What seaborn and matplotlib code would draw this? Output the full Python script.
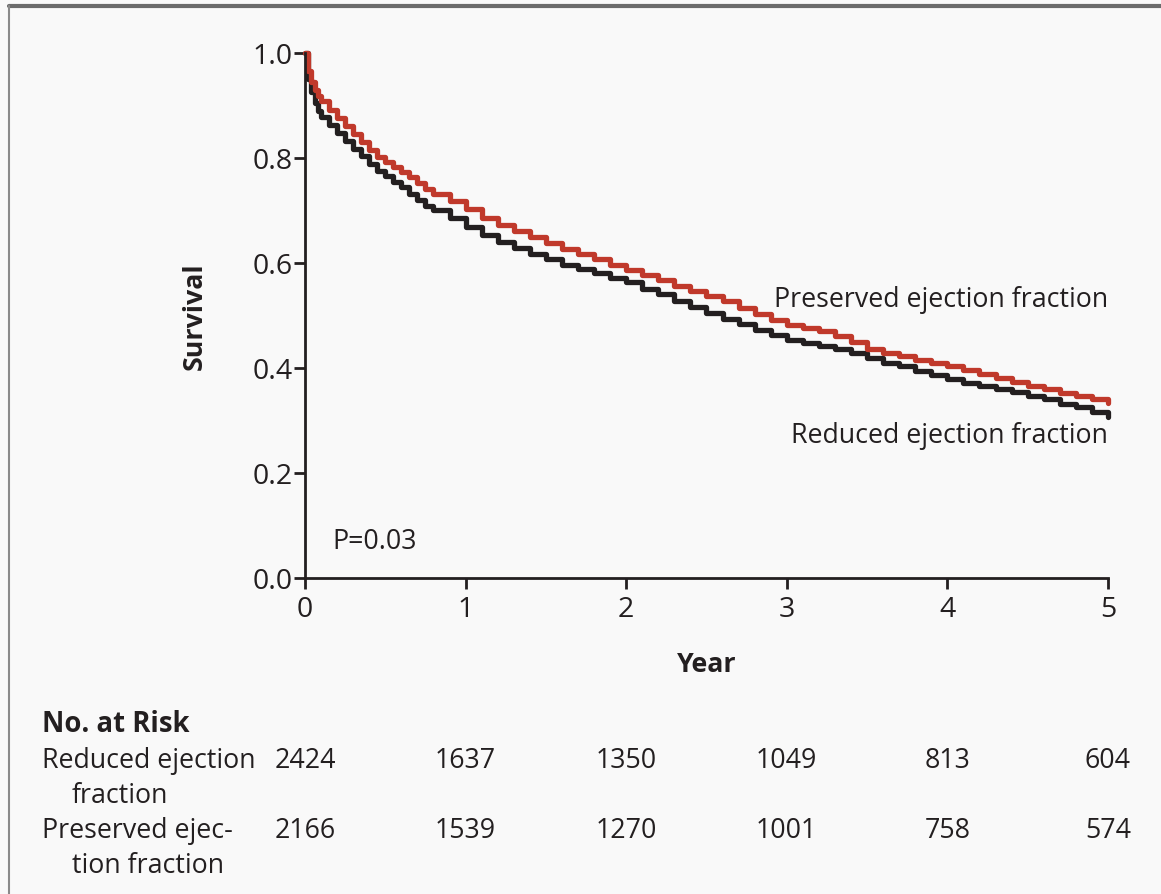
import numpy as np
import pandas as pd
import seaborn as sns
import matplotlib.pyplot as plt
from matplotlib.lines import Line2D
from matplotlib.transforms import blended_transform_factory

# Kaplan-Meier curves (year, survival)
years_reduced = [0.00, 0.02, 0.04, 0.06, 0.08, 0.10, 0.15, 0.20, 0.25, 0.30, 0.35, 0.40, 0.45,
                 0.50, 0.55, 0.60, 0.65, 0.70, 0.75, 0.80, 0.90, 1.00, 1.10, 1.20, 1.30, 1.40,
                 1.50, 1.60, 1.70, 1.80, 1.90, 2.00, 2.10, 2.20, 2.30, 2.40, 2.50, 2.60, 2.70,
                 2.80, 2.90, 3.00, 3.10, 3.20, 3.30, 3.40, 3.50, 3.60, 3.70, 3.80, 3.90, 4.00,
                 4.10, 4.20, 4.30, 4.40, 4.50, 4.60, 4.70, 4.80, 4.90, 5.00]
surv_reduced = [1.000, 0.950, 0.925, 0.905, 0.890, 0.878, 0.862, 0.848, 0.833, 0.818, 0.803,
                0.788, 0.776, 0.766, 0.755, 0.744, 0.731, 0.720, 0.709, 0.700, 0.686, 0.669,
                0.653, 0.640, 0.629, 0.618, 0.607, 0.597, 0.589, 0.580, 0.571, 0.563, 0.551,
                0.540, 0.528, 0.516, 0.505, 0.494, 0.483, 0.473, 0.462, 0.454, 0.448, 0.442,
                0.436, 0.428, 0.419, 0.410, 0.403, 0.395, 0.387, 0.379, 0.372, 0.366, 0.360,
                0.354, 0.347, 0.340, 0.332, 0.325, 0.317, 0.306]

years_preserved = years_reduced
surv_preserved = [1.000, 0.965, 0.945, 0.930, 0.918, 0.908, 0.892, 0.877, 0.860, 0.845, 0.830,
                  0.815, 0.802, 0.793, 0.783, 0.773, 0.763, 0.752, 0.740, 0.731, 0.718, 0.703,
                  0.686, 0.672, 0.660, 0.649, 0.638, 0.627, 0.617, 0.607, 0.597, 0.587, 0.578,
                  0.567, 0.557, 0.547, 0.537, 0.527, 0.515, 0.503, 0.492, 0.482, 0.476, 0.470,
                  0.461, 0.450, 0.437, 0.429, 0.422, 0.416, 0.410, 0.404, 0.397, 0.389, 0.381,
                  0.374, 0.366, 0.359, 0.352, 0.346, 0.340, 0.333]

# numbers at risk
risk_years = [0, 1, 2, 3, 4, 5]
risk_reduced = [2424, 1637, 1350, 1049, 813, 604]
risk_preserved = [2166, 1539, 1270, 1001, 758, 574]

group_names = ["Reduced ejection fraction", "Preserved ejection fraction"]
colors = {"Reduced ejection fraction": "#231f20", "Preserved ejection fraction": "#c0392b"}

df = pd.concat([
    pd.DataFrame({"year": years_reduced, "survival": surv_reduced, "group": group_names[0]}),
    pd.DataFrame({"year": years_preserved, "survival": surv_preserved, "group": group_names[1]}),
])

sns.set_style("ticks")
plt.rcParams["font.family"] = ["Open Sans", "DejaVu Sans"]
ink = "#231f20"
bg = "#f9f9f9"
fs = 19.3

fig = plt.figure(figsize=(11.61, 8.95), dpi=100, facecolor=bg)
ax = fig.add_axes([0.2627, 0.3531, 0.6916, 0.5866])
ax.set_facecolor(bg)

sns.lineplot(data=df, x="year", y="survival", hue="group", hue_order=group_names,
             palette=colors, drawstyle="steps-post", linewidth=3.8, legend=False,
             ax=ax, clip_on=False, estimator=None)

ax.set_xlim(0, 5)
ax.set_ylim(0, 1)
ax.set_xticks(risk_years)
ax.set_xticklabels([str(y) for y in risk_years])
ax.set_yticks([0, 0.2, 0.4, 0.6, 0.8, 1.0])
ax.set_yticklabels(["0.0", "0.2", "0.4", "0.6", "0.8", "1.0"])
for s in ["top", "right"]:
    ax.spines[s].set_visible(False)
for s in ["left", "bottom"]:
    ax.spines[s].set_color(ink)
    ax.spines[s].set_linewidth(2.0)
ax.tick_params(axis="both", colors=ink, width=2.0, length=8, labelsize=20.5)
ax.tick_params(axis="y", pad=1)
ax.tick_params(axis="x", pad=4)

ax.set_xlabel("Year", fontsize=fs, fontweight="bold", color=ink, va="center")
ax.set_ylabel("Survival", fontsize=fs, fontweight="bold", color=ink, va="center")
ax.xaxis.set_label_coords(0.5, (579 - 665) / 525)
ax.yaxis.set_label_coords((195 - 305) / 803, 0.5)

ax.text(0.17, 0.07, "P=0.03", fontsize=fs, color=ink, va="center", ha="left")
ax.text(5, 0.532, "Preserved ejection fraction", fontsize=fs, color=ink, ha="right", va="center")
ax.text(5, 0.272, "Reduced ejection fraction", fontsize=fs, color=ink, ha="right", va="center")

# number at risk table
def fy(py):
    return 1 - py / 895

fig.text(42 / 1161, fy(724), "No. at Risk", fontsize=fs + 0.5, fontweight="bold", color=ink, va="center")
fig.text(42 / 1161, fy(761), "Reduced ejection", fontsize=fs, color=ink, va="center")
fig.text(72 / 1161, fy(796), "fraction", fontsize=fs, color=ink, va="center")
fig.text(42 / 1161, fy(831), "Preserved ejec-", fontsize=fs, color=ink, va="center")
fig.text(72 / 1161, fy(866), "tion fraction", fontsize=fs, color=ink, va="center")

trans = blended_transform_factory(ax.transData, fig.transFigure)
for yr, a, b in zip(risk_years, risk_reduced, risk_preserved):
    ax.text(yr, fy(761), str(a), transform=trans, fontsize=fs, color=ink, ha="center", va="center")
    ax.text(yr, fy(831), str(b), transform=trans, fontsize=fs, color=ink, ha="center", va="center")

# frame lines at top and left of the figure
fig.add_artist(Line2D([9 / 1161, 1], [fy(7), fy(7)], color="#6b6b6b", linewidth=3.0,
                      transform=fig.transFigure))
fig.add_artist(Line2D([9 / 1161, 9 / 1161], [fy(7), 0], color="#8a8a8a", linewidth=1.5,
                      transform=fig.transFigure))

fig.savefig("out.png", dpi=100, facecolor=bg)
